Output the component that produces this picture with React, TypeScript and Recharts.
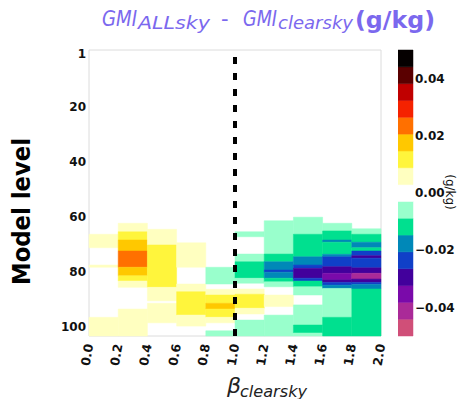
import React from "react";
import { ComposedChart, XAxis, YAxis, ReferenceArea, ReferenceLine } from "recharts";

// ---- data ----
type Seg = [number, number, number]; // [level top, level bottom, value g/kg]

const betaEdges = [0, 0.2, 0.4, 0.6, 0.8, 1.0, 1.2, 1.4, 1.6, 1.8, 2.0];
const levelTicks = [1, 20, 40, 60, 80, 100];
const levelDomain: [number, number] = [-0.5, 103.5];

const bin00: Seg[] = [[66.5, 71.4, 0.006], [77.7, 78.5, 0.006], [96.7, 103.5, 0.006]];
const bin02: Seg[] = [[62.5, 65.6, 0.006], [65.6, 68.6, 0.012], [68.6, 72.6, 0.018], [72.6, 78.5, 0.024], [78.5, 81.6, 0.018], [81.6, 83.5, 0.012], [83.5, 85.8, 0.006], [93.7, 103.5, 0.006]];
const bin04: Seg[] = [[64.7, 70.4, 0.006], [70.4, 85.8, 0.012], [85.8, 90.7, 0.006], [91.6, 98.7, 0.006]];
const bin06: Seg[] = [[69.6, 78.5, 0.006], [84.6, 87.4, 0.006], [87.4, 95.9, 0.012], [95.9, 99.9, 0.006]];
const bin08: Seg[] = [[78.5, 84.6, -0.006], [86.5, 88.6, 0.006], [88.6, 91.6, 0.012], [91.6, 93.7, 0.018], [93.7, 96.7, 0.012], [96.7, 98.7, 0.006], [101.6, 103.5, -0.006]];
const bin10: Seg[] = [[65.6, 67.4, -0.006], [73.7, 76.5, -0.006], [76.5, 82.5, -0.012], [82.5, 84.3, -0.006], [86.4, 88.3, 0.006], [88.3, 93.4, 0.012], [93.4, 95.5, 0.006], [97.7, 103.5, -0.006]];
const bin12: Seg[] = [[61.6, 73.7, -0.006], [73.7, 76.5, -0.012], [76.5, 79.5, -0.018], [79.5, 80.3, -0.024], [80.3, 82.5, -0.018], [82.5, 83.8, -0.012], [83.8, 85.6, -0.006], [88.6, 92.8, 0.006], [95.9, 103.5, -0.006]];
const bin14: Seg[] = [[60.3, 66.5, -0.006], [66.5, 74.7, -0.012], [74.7, 77.7, -0.018], [77.7, 78.9, -0.024], [78.9, 82.5, -0.029], [82.5, 83.5, -0.024], [83.5, 85.6, -0.012], [85.6, 88.6, -0.006], [92.2, 99.5, -0.006], [99.5, 102.4, -0.012], [102.4, 103.5, -0.006]];
const bin16: Seg[] = [[62.5, 65.3, -0.006], [65.3, 68.6, -0.012], [68.6, 69.4, -0.018], [69.4, 73.8, -0.012], [73.8, 74.7, -0.018], [74.7, 78.3, -0.024], [78.3, 80.7, -0.029], [80.7, 83.1, -0.035], [83.1, 84.0, -0.029], [84.0, 85.0, -0.024], [85.0, 86.2, -0.018], [86.2, 96.7, -0.006], [96.7, 103.5, -0.012]];
const bin18: Seg[] = [[64.5, 66.5, -0.006], [66.5, 69.4, -0.012], [69.4, 71.4, -0.018], [71.4, 72.6, -0.012], [72.6, 74.3, -0.024], [74.3, 75.2, -0.029], [75.2, 78.7, -0.024], [78.7, 80.7, -0.029], [80.7, 82.8, -0.041], [82.8, 84.0, -0.029], [84.0, 84.7, -0.024], [84.7, 86.4, -0.018], [86.4, 103.5, -0.012]];

const bins: Seg[][] = [bin00, bin02, bin04, bin06, bin08, bin10, bin12, bin14, bin16, bin18];

const cmapMin = -0.05;
const cmapMax = 0.05;
const cmapColors = [
  "#d04f78", "#aa2a98", "#7a0aaa", "#42009c", "#1040c8", "#0088b8", "#00e08f", "#99ffcc",
  "#ffffff",
  "#ffffc0", "#fff53c", "#ffc800", "#ff7000", "#f52200", "#c00000", "#5a0000", "#050000",
];
const cbarTicks = [-0.04, -0.02, 0, 0.02, 0.04];

// ---- helpers ----
const FONT = "DejaVu Sans";
const step = (cmapMax - cmapMin) / cmapColors.length;
const colorOf = (v: number) => {
  let i = Math.floor((v - cmapMin) / step);
  i = Math.max(0, Math.min(cmapColors.length - 1, i));
  return cmapColors[i];
};

const cells = bins.flatMap((segs, bi) =>
  segs.map(([top, bottom, v]) => ({ x1: betaEdges[bi], x2: betaEdges[bi + 1], y1: top, y2: bottom, fill: colorOf(v) }))
);

const XTick = (props: any) => {
  const { x, y, payload } = props;
  return (
    <g transform={`translate(${x},${y})`}>
      <text x={0} y={0} dy="0.35em" transform="rotate(-80)" textAnchor="end" fontFamily={FONT} fontWeight="bold" fontSize={12.5} fill="#111">
        {payload.value.toFixed(1)}
      </text>
    </g>
  );
};

const cbarFmt = (v: number) => (v < 0 ? "\u2212" + Math.abs(v).toFixed(2) : v.toFixed(2));

export default function App() {
  const purple = "#7b68ee";
  return (
    <div style={{ position: "absolute", left: 0, top: 0, width: 458, height: 399, background: "#fff" }}>
      <svg width={458} height={399} style={{ position: "absolute", left: 0, top: 0 }}>
        <text x={102} y={26} fontFamily={FONT} fontStyle="italic" fontSize={21} fill={purple} textLength={35} lengthAdjust="spacingAndGlyphs">GMI</text>
        <text x={138} y={29} fontFamily={FONT} fontStyle="italic" fontSize={17} fill={purple} textLength={72} lengthAdjust="spacingAndGlyphs">ALLsky</text>
        <text x={221} y={26} fontFamily={FONT} fontSize={21} fill={purple}>-</text>
        <text x={243} y={26} fontFamily={FONT} fontStyle="italic" fontSize={21} fill={purple} textLength={34} lengthAdjust="spacingAndGlyphs">GMI</text>
        <text x={278} y={29} fontFamily={FONT} fontStyle="italic" fontSize={17} fill={purple} textLength={75} lengthAdjust="spacingAndGlyphs">clearsky</text>
        <text x={355} y={28} fontFamily={FONT} fontWeight="bold" fontSize={23} fill={purple} textLength={80} lengthAdjust="spacingAndGlyphs">(g/kg)</text>

        <text x={30} y={211.5} transform="rotate(-90, 30, 211.5)" textAnchor="middle" fontFamily={FONT} fontWeight="bold" fontSize={24} fill="#000" textLength={147} lengthAdjust="spacingAndGlyphs">Model level</text>

        <text x={227} y={393} fontFamily={FONT} fontStyle="italic" fontSize={22} fill="#222">β</text>
        <text x={240} y={397} fontFamily={FONT} fontStyle="italic" fontSize={16} fill="#222" textLength={67} lengthAdjust="spacingAndGlyphs">clearsky</text>

        <text x={446} y={192} transform="rotate(90, 446, 192)" textAnchor="middle" fontFamily={FONT} fontSize={12} fill="#111">(g/kg)</text>
      </svg>

      <div style={{ position: "absolute", left: 0, top: 0 }}>
        <ComposedChart width={458} height={399} margin={{ top: 50, right: 77, bottom: 0, left: 0 }}>
          <XAxis
            type="number"
            dataKey="x"
            domain={[0, 2]}
            ticks={betaEdges}
            interval={0}
            allowDataOverflow
            height={63}
            axisLine={false}
            tickLine={false}
            tick={<XTick />}
          />
          <YAxis
            type="number"
            dataKey="y"
            domain={levelDomain}
            reversed
            ticks={levelTicks}
            interval={0}
            allowDataOverflow
            width={89}
            axisLine={false}
            tickLine={false}
            tickSize={0}
            tickMargin={3}
            tick={{ fontFamily: FONT, fontWeight: "bold", fontSize: 12, fill: "#111" }}
          />
          <ReferenceArea x1={0} x2={2} y1={levelDomain[0]} y2={levelDomain[1]} fill="none" fillOpacity={0} stroke="#dcdcdc" strokeWidth={1} ifOverflow="visible" />
          {cells.map((c, i) => (
            <ReferenceArea key={i} x1={c.x1} x2={c.x2} y1={c.y1} y2={c.y2} fill={c.fill} fillOpacity={1} stroke={c.fill} strokeWidth={0.5} ifOverflow="visible" />
          ))}
          <ReferenceLine x={1} stroke="#000" strokeWidth={4} strokeDasharray="7 9" ifOverflow="visible" />
        </ComposedChart>
      </div>

      <div style={{ position: "absolute", left: 398, top: 0, width: 60, height: 399 }}>
        <ComposedChart width={60} height={399} margin={{ top: 50, right: 0, bottom: 0, left: 0 }}>
          <XAxis type="number" dataKey="x" domain={[0, 1]} allowDataOverflow height={63} axisLine={false} tickLine={false} tick={false} />
          <YAxis
            type="number"
            dataKey="y"
            orientation="right"
            domain={[cmapMin, cmapMax]}
            allowDataOverflow
            ticks={cbarTicks}
            interval={0}
            width={45}
            axisLine={false}
            tickLine={false}
            tickSize={0}
            tickMargin={2}
            tickFormatter={cbarFmt}
            tick={{ fontFamily: FONT, fontWeight: "bold", fontSize: 12, fill: "#111", textAnchor: "start" }}
          />
          {cmapColors.map((col, i) => (
            <ReferenceArea key={i} x1={0} x2={1} y1={cmapMin + i * step} y2={cmapMin + (i + 1) * step} fill={col} fillOpacity={1} stroke={col} strokeWidth={0.5} ifOverflow="visible" />
          ))}
        </ComposedChart>
      </div>
    </div>
  );
}
